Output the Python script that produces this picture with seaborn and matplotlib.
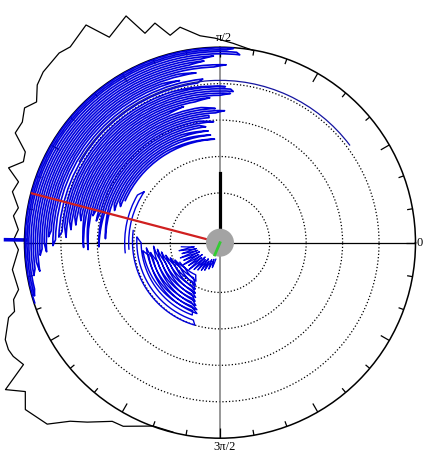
import numpy as np
import matplotlib
matplotlib.use("Agg")
import matplotlib.pyplot as plt
import seaborn as sns

# angular histogram outline (degrees, radius)
hist_theta = [80.3, 86.3, 91.4, 95.5, 100.5, 103.5, 106.5, 109.7, 112.5, 118.3, 121.6, 127.4,
              130.3, 136.0, 139.2, 142.5, 145.4, 148.6, 151.8, 155.0, 157.6, 160.5, 163.2,
              166.2, 170.2, 172.6, 176.3, 179.2, 182.0, 187.4, 193.1, 195.4, 198.5, 199.5,
              204.3, 206.8, 208.8, 211.8, 214.4, 217.4, 220.6, 226.4, 230.0, 233.5, 238.9,
              242.2, 250.0, 256.0]
hist_r = [4.99, 5.12, 5.25, 5.34, 5.65, 5.49, 5.92, 5.74, 6.37, 6.04, 6.65, 6.40,
          6.46, 6.38, 6.26, 5.98, 6.15, 5.99, 6.01, 5.53, 5.47, 5.79, 5.41,
          5.50, 5.25, 5.35, 5.18, 5.30, 5.17, 5.38, 5.31, 5.51, 5.58, 5.79,
          6.10, 6.14, 6.11, 5.98, 6.77, 6.36, 6.67, 6.51, 6.03, 5.76, 5.36,
          5.33, 4.99, 4.99]

# phase sweeps of the upper band: radius, left end, right end (degrees)
upper_r = [4.98, 4.93, 4.88, 4.82, 4.76, 4.70, 4.64, 4.58, 4.52, 4.46, 4.40, 4.34, 4.28, 4.22,
           4.15, 4.06, 3.98, 3.92, 3.86, 3.80, 3.74, 3.68, 3.62, 3.56, 3.50, 3.44, 3.38, 3.32,
           3.26, 3.20, 3.14, 3.08, 3.02, 2.96, 2.90, 2.84, 2.78, 2.72, 2.66, 2.60, 2.54, 2.48]
upper_left = [198, 196, 194, 190, 188, 186, 189, 184, 182, 180, 183, 178, 176, 181,
              179, 178, 176, 174, 178, 172, 175, 170, 173, 168, 171, 168, 182, 166,
              183, 168, 165, 170, 166, 182, 164, 162, 178, 160, 163, 158, 160, 156]
upper_right = [86, 88, 85, 84, 92, 96, 95, 100, 88, 92, 104, 98, 110, 104,
               96, 98, 108, 88, 86, 85, 86, 90, 94, 100, 105, 112, 98, 92,
               88, 92, 95, 95, 100, 93, 100, 97, 110, 96, 112, 95, 120, 93]

# thin sweeps just inside the r=2 ring on the left
thin_r = [2.25, 2.14]
thin_left = [186, 184]
thin_right = [150, 146]

# long isolated arc
long_arc_theta = [37, 150]
long_arc_r = [4.09, 4.09]

# phase sweeps of the lower cluster: radius at start and end, start, end (degrees)
lower_r_start = [2.04, 1.92, 1.80, 1.76, 1.62, 1.66, 1.52, 1.56, 1.42, 1.46, 1.32,
                 1.36, 1.22, 1.26, 1.12, 1.16, 1.02, 1.06, 0.92, 0.96, 0.82, 0.86]
lower_r_end = [2.00, 1.88, 1.76, 1.64, 1.68, 1.54, 1.58, 1.44, 1.48, 1.34, 1.38,
               1.24, 1.28, 1.14, 1.18, 1.04, 1.08, 0.94, 0.98, 0.84, 0.88, 0.74]
lower_start = [172, 176, 180, 186, 190, 184, 194, 188, 197, 183, 199, 186, 201,
               189, 204, 193, 207, 197, 211, 201, 215, 206]
lower_end = [253, 251, 249, 248, 252, 246, 251, 244, 249, 243, 247, 241, 246,
             239, 244, 237, 242, 235, 240, 233, 238, 233]

# spiky part next to the centre
spike_theta = [186, 189, 191, 194, 196, 199, 201, 204, 206, 209, 211, 214, 216, 219, 221,
               224, 226, 229, 231, 234, 236, 239, 241, 244, 247, 250, 253, 256]
spike_r = [0.70, 0.35, 0.78, 0.30, 0.72, 0.28, 0.80, 0.25, 0.74, 0.30, 0.82, 0.22, 0.70, 0.28,
           0.76, 0.20, 0.66, 0.25, 0.60, 0.18, 0.55, 0.22, 0.50, 0.15, 0.42, 0.12, 0.35, 0.10]

# single vectors (degrees, length)
mean_theta, mean_r = 165.3, 4.97
bar_theta, bar_r = 90.0, 1.54
small_theta, small_r = 247.0, 0.0
marker_theta, marker_r = [179.2, 179.2], [4.97, 5.52]

r0 = -0.365
blue = "#0000dd"


def zigzag(ra, rb, a, b):
    # back-and-forth sweeps: sweep i runs between angle a[i] (radius ra[i]) and b[i] (rb[i])
    th, rr = [], []
    for i in range(len(a)):
        if i % 2 == 0:
            th += [a[i], b[i]]
            rr += [ra[i], rb[i]]
        else:
            th += [b[i], a[i]]
            rr += [rb[i], ra[i]]
    return np.deg2rad(th), rr


fig = plt.figure(figsize=(4.31, 4.65), dpi=100)
ax = fig.add_axes([0.0568, 0.0576, 0.9072, 0.8409], projection="polar")

# axis cross
ax.plot(np.deg2rad([180, 180, 0, 0]), [5, r0, r0, 5], color="k", lw=0.9, clip_on=False, zorder=2)
ax.plot(np.deg2rad([90, 90, 270, 270]), [5, r0, r0, 5], color="#7a7a7a", lw=1.1, clip_on=False, zorder=2)

# rim ticks, every 10 deg, longer every 30 deg
deg = np.arange(0, 360, 10)
ax.vlines(np.deg2rad(deg[deg % 30 != 0]), 4.85, 5, color="k", lw=0.9, zorder=2)
ax.vlines(np.deg2rad(deg[deg % 30 == 0]), 4.73, 5, color="k", lw=0.9, zorder=2)

sns.lineplot(x=np.deg2rad(hist_theta), y=hist_r, sort=False, estimator=None,
             color="k", lw=0.9, ax=ax, clip_on=False)

paths = [zigzag(upper_r, upper_r, upper_left, upper_right),
         zigzag(thin_r, thin_r, thin_left, thin_right),
         zigzag(lower_r_start, lower_r_end, lower_start, lower_end),
         (np.deg2rad(spike_theta), spike_r)]
widths = [1.2, 1.0, 1.0, 0.9]
for (th, rr), w in zip(paths, widths):
    sns.lineplot(x=th, y=rr, sort=False, estimator=None,
                 color=blue, lw=w, ax=ax, clip_on=False, zorder=3)
    # join samples along arcs/spirals rather than chords
    ax.lines[-1].get_path()._interpolation_steps = 64

sns.lineplot(x=np.deg2rad(long_arc_theta), y=long_arc_r, sort=False, estimator=None,
             color="#1414a0", lw=0.9, ax=ax, clip_on=False, zorder=3)
ax.lines[-1].get_path()._interpolation_steps = 64

sns.lineplot(x=np.deg2rad(marker_theta), y=marker_r, sort=False, estimator=None,
             color=blue, lw=2.6, ax=ax, clip_on=False)
sns.lineplot(x=np.deg2rad([mean_theta, mean_theta]), y=[r0, mean_r], sort=False, estimator=None,
             color="#d02020", lw=1.6, ax=ax, clip_on=False, zorder=4)
sns.lineplot(x=np.deg2rad([bar_theta, bar_theta]), y=[r0, bar_r], sort=False, estimator=None,
             color="k", lw=2.3, ax=ax, clip_on=False, zorder=4)
sns.scatterplot(x=[0.0], y=[r0], s=406, color="#a3a3a3", edgecolor="none",
                ax=ax, clip_on=False, zorder=6)
sns.lineplot(x=np.deg2rad([small_theta, small_theta]), y=[r0, small_r], sort=False, estimator=None,
             color="#33cc33", lw=2.0, ax=ax, clip_on=False, zorder=7)

ax.set_rorigin(r0)
ax.set_ylim(0, 5)
ax.set_yticks([1, 2, 3, 4])
ax.set_yticklabels([])
ax.yaxis.grid(True, linestyle=":", color="k", lw=0.9)
ax.xaxis.grid(False)
ax.set_xticks([])
ax.spines["polar"].set_linewidth(1.1)
ax.spines["inner"].set_linewidth(0)
ax.set_xlabel("")
ax.set_ylabel("")

lab = dict(fontsize=9, family="Liberation Serif", color="k")
ax.text(np.deg2rad(0), 5.04, "0", ha="left", va="center", **lab)
ax.text(np.deg2rad(88.9), 5.26, "π/2", ha="center", va="center", **lab)
ax.text(np.deg2rad(271.25), 5.25, "3π/2", ha="center", va="center", **lab)

fig.savefig("out.png", dpi=100)
